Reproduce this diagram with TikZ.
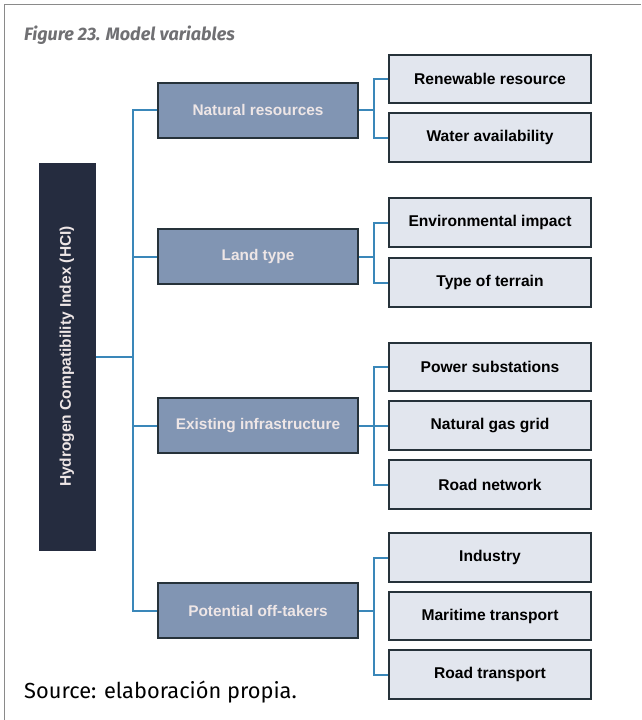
\documentclass[tikz,border=0pt]{standalone}
\usepackage{fontspec}
\setmainfont{Liberation Sans}
\newfontfamily\myriad{Fira Sans}
\definecolor{hcifill}{RGB}{37,44,63}
\definecolor{midfill}{RGB}{129,149,179}
\definecolor{lighttext}{RGB}{238,230,230}
\definecolor{boxline}{RGB}{38,50,58}
\definecolor{leaffill}{RGB}{226,230,238}
\definecolor{connblue}{RGB}{58,135,185}
\definecolor{framegrey}{RGB}{138,138,138}
\definecolor{titlegrey}{RGB}{112,112,115}
\begin{document}
\begin{tikzpicture}[x=1pt,y=-1pt,
  hcibox/.style={draw=hcifill, fill=hcifill, line width=1pt, minimum width=387pt, minimum height=56pt,
    inner sep=0pt, rotate=90, text=lighttext, font=\bfseries\fontsize{15.5}{17}\selectfont},
  midbox/.style={draw=boxline, fill=midfill, line width=2pt, minimum width=200pt, minimum height=55pt,
    inner sep=0pt, text=lighttext, font=\bfseries\fontsize{15.4}{17}\selectfont},
  leafbox/.style={draw=boxline, fill=leaffill, line width=2pt, minimum width=202pt, minimum height=48.5pt,
    inner sep=0pt, text=black, font=\bfseries\fontsize{15.6}{17}\selectfont},
  conn/.style={draw=connblue, line width=2pt},
  frameline/.style={draw=framegrey, line width=1.5pt}]
\useasboundingbox (0,0) rectangle (641,720);
\fill[white] (0,0) rectangle (641,720);
% frame
\draw[frameline] (4.5,720) -- (4.5,4.5) -- (641,4.5);
% title and source
\node[anchor=base west, inner sep=0pt, text=titlegrey, font=\myriad\bfseries\itshape\fontsize{18}{20}\selectfont] (title) at (24,40) {Figure 23. Model variables};
\node[anchor=base west, inner sep=0pt, text=black, font=\myriad\fontsize{21.8}{24}\selectfont] (source) at (24,698) {Source: elaboración propia.};
% root
\node[hcibox] (hci) at (67,356.5) {Hydrogen Compatibility Index (HCI)};
% level 2
\node[midbox] (nat) at (258,110) {Natural resources};
\node[midbox] (land) at (258,256.5) {Land type};
\node[midbox] (infra) at (258,425.5) {Existing infrastructure};
\node[midbox] (pot) at (258,610.5) {Potential off-takers};
% leaves
\node[leafbox] (ren) at (490,79) {Renewable resource};
\node[leafbox] (wat) at (490,137.5) {Water availability};
\node[leafbox] (env) at (490,222.5) {Environmental impact};
\node[leafbox] (ter) at (490,282.5) {Type of terrain};
\node[leafbox] (pow) at (490,367) {Power substations};
\node[leafbox] (gas) at (490,425.5) {Natural gas grid};
\node[leafbox] (road) at (490,484.5) {Road network};
\node[leafbox] (ind) at (490,557.5) {Industry};
\node[leafbox] (mar) at (490,616) {Maritime transport};
\node[leafbox] (rtr) at (490,674.5) {Road transport};
% trunk coordinates
\coordinate (tx) at (133,0);
\coordinate (s1) at (373.5,0);
% main trunk
\draw[conn] (hci.south) -- (tx |- hci.south);
\draw[conn] (nat.west) -- (tx |- nat.west) -- (tx |- pot.west) -- (pot.west);
\draw[conn] (land.west) -- (tx |- land.west);
\draw[conn] (infra.west) -- (tx |- infra.west);
% sub trunks
\draw[conn] (nat.east) -- (s1 |- nat.east);
\draw[conn] (ren.west) -- (s1 |- ren.west) -- (s1 |- wat.west) -- (wat.west);
\draw[conn] (land.east) -- (s1 |- land.east);
\draw[conn] (env.west) -- (s1 |- env.west) -- (s1 |- ter.west) -- (ter.west);
\draw[conn] (infra.east) -- (gas.west);
\draw[conn] (pow.west) -- (s1 |- pow.west) -- (s1 |- road.west) -- (road.west);
\draw[conn] (pot.east) -- (s1 |- pot.east);
\draw[conn] (ind.west) -- (s1 |- ind.west) -- (s1 |- rtr.west) -- (rtr.west);
\end{tikzpicture}
\end{document}
